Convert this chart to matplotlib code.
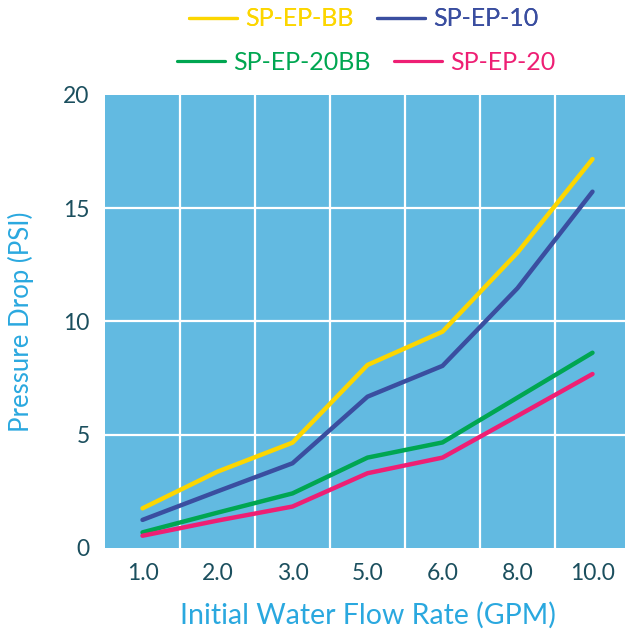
import matplotlib
matplotlib.use("Agg")
import matplotlib.pyplot as plt

plt.rcParams['font.family'] = ['Lato', 'DejaVu Sans']

categories = ["1.0", "2.0", "3.0", "5.0", "6.0", "8.0", "10.0"]
series_names = ["SP-EP-BB", "SP-EP-10", "SP-EP-20BB", "SP-EP-20"]
sp_ep_bb = [1.75, 3.37, 4.65, 8.08, 9.55, 13.04, 17.17]
sp_ep_10 = [1.24, 2.5, 3.74, 6.68, 8.04, 11.47, 15.73]
sp_ep_20bb = [0.69, 1.56, 2.41, 3.99, 4.66, 6.64, 8.62]
sp_ep_20 = [0.54, 1.21, 1.83, 3.3, 3.99, 5.83, 7.68]
colors = ["#fcd600", "#3a4ea0", "#00a651", "#ee1f74"]
yticks = [0, 5, 10, 15, 20]

fig = plt.figure(figsize=(6.25, 6.33), dpi=100)
ax = fig.add_axes([0.168, 0.1343, 0.84, 0.7157])
ax.set_facecolor("#62bae1")

x = list(range(len(categories)))
handles = []
for vals, c, name in zip([sp_ep_bb, sp_ep_10, sp_ep_20bb, sp_ep_20], colors, series_names):
    h, = ax.plot(x, vals, color=c, lw=3.2, solid_capstyle='round', label=name, zorder=3)
    handles.append(h)

ax.set_xlim(-0.5, len(categories) - 0.5)
ax.set_ylim(0, 20)
ax.set_yticks(yticks)
ax.set_xticks(x)
ax.set_xticklabels(categories)
ax.grid(False)
for xv in [i + 0.5 for i in x[:-1]]:
    ax.axvline(xv, color="white", lw=1.6, zorder=1)
for yv in yticks[1:-1]:
    ax.axhline(yv, color="white", lw=1.6, zorder=1)
for s in ax.spines.values():
    s.set_visible(False)
ax.tick_params(axis='both', which='both', length=0, labelsize=16.5, labelcolor="#1b4f5e")
ax.tick_params(axis='x', pad=11)
ax.tick_params(axis='y', pad=11)
ax.set_xlabel("Initial Water Flow Rate (GPM)", fontsize=20.5, color="#2aa8df", labelpad=13)
ax.set_ylabel("Pressure Drop (PSI)", fontsize=18.5, color="#2aa8df", labelpad=21)

common = dict(ncol=2, loc="center", frameon=False, fontsize=18, handlelength=1.95,
              handletextpad=0.33, columnspacing=0.9, labelcolor='linecolor')
leg1 = fig.legend(handles[:2], series_names[:2], bbox_to_anchor=(0.582, 0.970), **common)
leg2 = fig.legend(handles[2:], series_names[2:], bbox_to_anchor=(0.586, 0.902), **common)
fig.add_artist(leg1)
for leg in (leg1, leg2):
    for l in leg.get_lines():
        l.set_linewidth(2.3)

fig.savefig("out.png", dpi=100)
